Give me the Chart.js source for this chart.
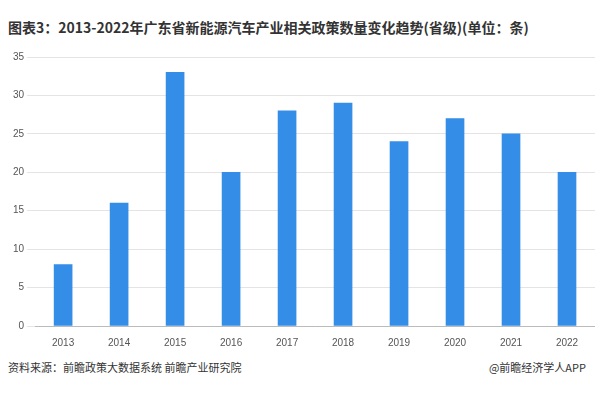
<!DOCTYPE html>
<html><head><meta charset="utf-8">
<script src="https://cdn.jsdelivr.net/npm/chart.js@4"></script>
<style>
body{margin:0;width:600px;height:400px;background:#fff;font-family:"Noto Sans CJK SC",sans-serif;position:relative;overflow:hidden}
#t{position:absolute;left:8px;top:17px;font-size:14px;font-weight:bold;color:#333}
#c{position:absolute;left:10px;top:48px;width:585px;height:304px}
#f1{position:absolute;left:8px;top:359px;font-size:11px;color:#333}
#f2{position:absolute;right:14px;top:359px;font-size:11px;color:#333}
</style></head><body>
<div id="t">图表3：2013-2022年广东省新能源汽车产业相关政策数量变化趋势(省级)(单位：条)</div>
<div id="c"><canvas id="cv"></canvas></div>
<div id="f1">资料来源：前瞻政策大数据系统 前瞻产业研究院</div>
<div id="f2">@前瞻经济学人APP</div>
<script>
const categories=["2013","2014","2015","2016","2017","2018","2019","2020","2021","2022"];
const values=[8,16,33,20,28,29,24,27,25,20];
new Chart(document.getElementById('cv'),{type:'bar',
data:{labels:categories,datasets:[{data:values,backgroundColor:'#348de6',barThickness:18}]},
options:{responsive:true,maintainAspectRatio:false,animation:false,
plugins:{legend:{display:false},tooltip:{enabled:false}},
scales:{x:{grid:{display:false},border:{color:'#bbb'},ticks:{color:'#555',font:{size:10}}},
y:{min:0,max:35,ticks:{stepSize:5,color:'#555',font:{size:10}},grid:{color:'#e4e4e4'},border:{display:false}}}}});
</script></body></html>
